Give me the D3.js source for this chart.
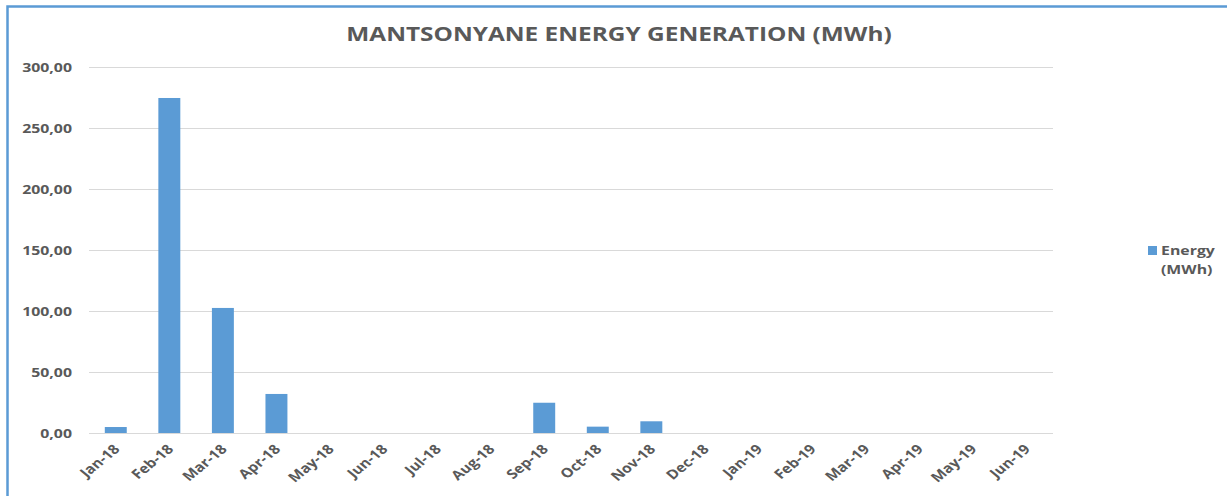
<!DOCTYPE html>
<html>
<head>
<meta charset="utf-8">
<script src="https://cdn.jsdelivr.net/npm/d3@7"></script>
<style>
  body { margin: 0; background: #fff; }
  svg text { font-family: "Open Sans", "DejaVu Sans", sans-serif; fill: #595959; font-weight: bold; }
</style>
</head>
<body>
<script>
// chart data
var months = ["Jan-18", "Feb-18", "Mar-18", "Apr-18", "May-18", "Jun-18", "Jul-18", "Aug-18", "Sep-18",
              "Oct-18", "Nov-18", "Dec-18", "Jan-19", "Feb-19", "Mar-19", "Apr-19", "May-19", "Jun-19"];
var energy = [4.9, 274.6, 102.5, 32, 0, 0, 0, 0, 24.8, 5.2, 9.6, 0, 0, 0, 0, 0, 0, 0];
var yTicks = [0, 50, 100, 150, 200, 250, 300];

var width = 1227, height = 496;
var margin = {top: 67, left: 89, right: 1227 - 1053, bottom: 496 - 433};
var stretch = 1.22; // the original picture is a bit wide

var svg = d3.select("body").append("svg")
    .attr("width", width)
    .attr("height", height);

// frame
svg.append("rect")
    .attr("x", 7.5).attr("y", 6.5)
    .attr("width", width + 10).attr("height", height + 10)
    .style("fill", "none")
    .style("stroke", "#5b9bd5")
    .style("stroke-width", 2.5);

var xscale = d3.scaleBand()
    .domain(months)
    .range([margin.left, width - margin.right])
    .paddingInner(0.59)
    .paddingOuter(0.295);

var yscale = d3.scaleLinear()
    .domain([0, 300])
    .range([height - margin.bottom, margin.top]);

var fmt = function(d) { return d3.format(".2f")(d).replace(".", ","); };

// gridlines
svg.append("g").attr("class", "grid")
  .selectAll("line")
  .data(yTicks)
  .enter().append("line")
    .attr("x1", margin.left)
    .attr("x2", width - margin.right)
    .attr("y1", function(d) { return Math.round(yscale(d)) + 0.5; })
    .attr("y2", function(d) { return Math.round(yscale(d)) + 0.5; })
    .style("stroke", "#d9d9d9")
    .style("stroke-width", 1);

// y axis labels
var yaxis = d3.axisLeft(yscale).tickValues(yTicks).tickFormat(fmt).tickSize(0).tickPadding(0);
var yg = svg.append("g")
    .attr("transform", "translate(" + (margin.left - 17) + ",0)")
    .call(yaxis);
yg.select(".domain").remove();
yg.selectAll("text")
    .style("font-size", "13px")
    .attr("x", 0)
    .attr("dy", "0.35em")
    .attr("transform", "scale(" + stretch + ",1)");

// bars
svg.append("g").attr("class", "bars")
  .selectAll("rect")
  .data(energy)
  .enter().append("rect")
    .attr("x", function(d, i) { return xscale(months[i]); })
    .attr("width", xscale.bandwidth())
    .attr("y", function(d) { return yscale(d); })
    .attr("height", function(d) { return yscale(0) - yscale(d); })
    .style("fill", "#5b9bd5");

// x axis labels
var xaxis = d3.axisBottom(xscale).tickSize(0).tickPadding(0);
var xg = svg.append("g")
    .attr("transform", "translate(0," + (height - margin.bottom) + ")")
    .call(xaxis);
xg.select(".domain").remove();
xg.selectAll("text")
    .style("font-size", "13px")
    .style("text-anchor", "end")
    .attr("y", 0)
    .attr("dy", 0)
    .attr("transform", "translate(5,17) scale(" + stretch + ",1) rotate(-45)");

// title
svg.append("text")
    .attr("transform", "translate(619,41) scale(" + stretch + ",1)")
    .attr("text-anchor", "middle")
    .style("font-size", "20px")
    .text("MANTSONYANE ENERGY GENERATION (MWh)");

// legend
var legend = svg.append("g").attr("transform", "translate(1148,246)");
legend.append("rect")
    .attr("width", 9).attr("height", 9)
    .style("fill", "#5b9bd5");
legend.append("text").attr("transform", "translate(13,9) scale(" + stretch + ",1)")
    .style("font-size", "13px").text("Energy");
legend.append("text").attr("transform", "translate(13,28) scale(" + stretch + ",1)")
    .style("font-size", "13px").text("(MWh)");
</script>
</body>
</html>
